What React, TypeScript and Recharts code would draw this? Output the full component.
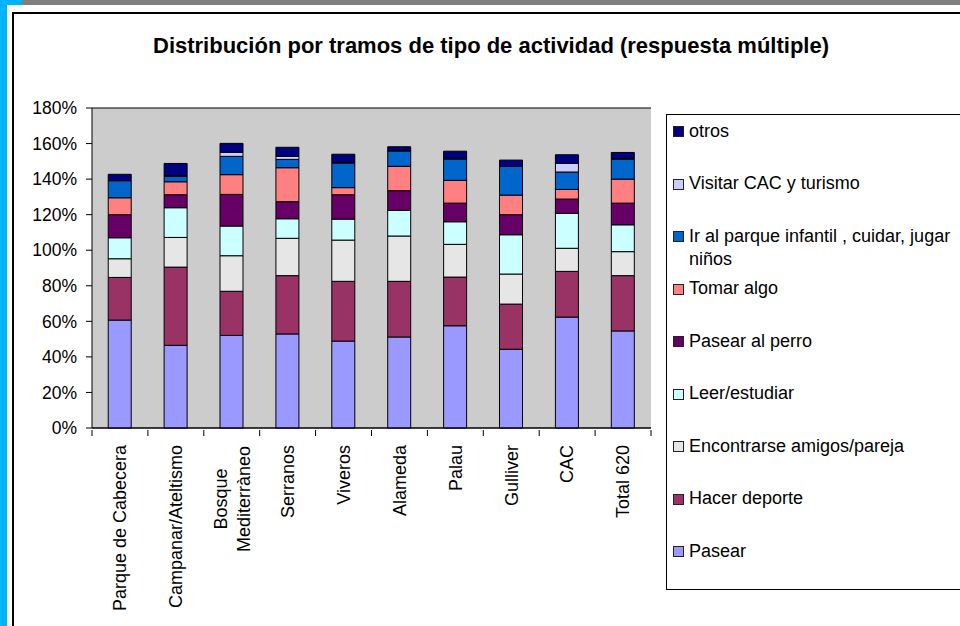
import React from 'react';
import { BarChart, Bar, XAxis, YAxis, CartesianGrid } from 'recharts';

const categories = [
  'Parque de Cabecera',
  'Campanar/Ateltismo',
  'Bosque\nMediterràneo',
  'Serranos',
  'Viveros',
  'Alameda',
  'Palau',
  'Gulliver',
  'CAC',
  'Total 620',
];

// percentages
const pasear = [60.7, 46.5, 52.1, 52.9, 48.9, 51.2, 57.5, 44.3, 62.4, 54.6];
const hacerDeporte = [24.0, 44.0, 24.8, 32.8, 33.6, 31.3, 27.4, 25.4, 25.7, 31.1];
const encontrarse = [10.5, 16.7, 20.0, 21.0, 23.2, 25.5, 18.4, 16.9, 13.0, 13.5];
const leer = [11.8, 16.7, 16.7, 11.0, 11.8, 14.4, 12.7, 22.1, 19.6, 15.1];
const perro = [13.0, 7.3, 17.8, 9.6, 13.7, 11.1, 10.5, 11.3, 8.1, 12.2];
const tomarAlgo = [9.5, 7.3, 11.1, 19.1, 4.0, 13.7, 12.8, 11.0, 5.4, 13.5];
const parqueInfantil = [9.6, 3.0, 10.3, 4.7, 13.7, 8.6, 12.0, 16.2, 9.8, 11.1];
const visitarCac = [0, 0.5, 2.3, 1.7, 0.5, 0.3, 0.5, 0, 4.9, 0.5];
const otros = [3.6, 6.8, 5.0, 5.1, 4.6, 2.1, 3.9, 3.5, 4.8, 3.4];

const yTicks = [0, 20, 40, 60, 80, 100, 120, 140, 160, 180];

const series = [
  { key: 'pasear', name: 'Pasear', values: pasear, color: '#9999ff' },
  { key: 'deporte', name: 'Hacer deporte', values: hacerDeporte, color: '#993366' },
  { key: 'amigos', name: 'Encontrarse amigos/pareja', values: encontrarse, color: '#e6e6e6' },
  { key: 'leer', name: 'Leer/estudiar', values: leer, color: '#ccffff' },
  { key: 'perro', name: 'Pasear al perro', values: perro, color: '#660066' },
  { key: 'tomar', name: 'Tomar algo', values: tomarAlgo, color: '#ff8080' },
  { key: 'infantil', name: 'Ir al parque infantil , cuidar, jugar niños', values: parqueInfantil, color: '#0066cc' },
  { key: 'visitar', name: 'Visitar CAC y turismo', values: visitarCac, color: '#ccccff' },
  { key: 'otros', name: 'otros', values: otros, color: '#000080' },
];

const data = categories.map((name, i) => {
  const row: { [k: string]: string | number } = { name };
  series.forEach(s => { row[s.key] = s.values[i]; });
  return row;
});

const FONT = 'Arial, "Liberation Sans", sans-serif';

function CategoryTick(props: any) {
  const { x, y, payload, index, visibleTicksCount, width } = props;
  const band = width / visibleTicksCount;
  const axisY = y - 6;
  const lines = String(payload.value).split('\n');
  const fs = 18;
  const top = axisY + 15;
  const longest = Math.max(...lines.map(l => l.length));
  return (
    <g>
      <line x1={x - band / 2} x2={x - band / 2} y1={axisY} y2={axisY + 6} stroke="#000" />
      {index === visibleTicksCount - 1 && (
        <line x1={x + band / 2} x2={x + band / 2} y1={axisY} y2={axisY + 6} stroke="#000" />
      )}
      {lines.length === 1 ? (
        <text
          x={x}
          y={top}
          dy="0.35em"
          transform={`rotate(-90, ${x}, ${top})`}
          textAnchor="end"
          fontSize={fs}
          fontFamily={FONT}
          fill="#000"
        >
          {lines[0]}
        </text>
      ) : (
        lines.map((l, i) => {
          const cx = x + (i - (lines.length - 1) / 2) * 23;
          const cy = top + (longest * fs * 0.5) / 2;
          return (
            <text
              key={i}
              x={cx}
              y={cy}
              dy="0.35em"
              transform={`rotate(-90, ${cx}, ${cy})`}
              textAnchor="middle"
              fontSize={fs}
              fontFamily={FONT}
              fill="#000"
            >
              {l}
            </text>
          );
        })
      )}
    </g>
  );
}

function LegendBox() {
  const items = [...series].reverse();
  return (
    <div
      style={{
        position: 'absolute',
        left: 666,
        top: 114,
        width: 320,
        height: 474,
        border: '1px solid #000',
        background: '#fff',
        fontFamily: FONT,
        fontSize: 18,
      }}
    >
      {items.map((s, i) => {
        const cy = 16 + i * 52.5;
        return (
          <div key={s.key}>
            <div
              style={{
                position: 'absolute',
                left: 6,
                top: cy - 5,
                width: 9,
                height: 9,
                background: s.color,
                border: '1px solid #222',
              }}
            />
            <div
              style={{
                position: 'absolute',
                left: 22,
                top: cy - 11.5,
                width: 272,
                lineHeight: '23px',
                color: '#000',
              }}
            >
              {s.name}
            </div>
          </div>
        );
      })}
    </div>
  );
}

export default function App() {
  return (
    <div
      style={{
        position: 'absolute',
        left: 0,
        top: 0,
        width: 960,
        height: 626,
        overflow: 'hidden',
        background: '#fff',
      }}
    >
      <div style={{ position: 'absolute', left: 0, top: 0, width: 960, height: 5, background: '#808080' }} />
      <div style={{ position: 'absolute', left: 0, top: 0, width: 22, height: 5, background: '#00b4ff' }} />
      <div style={{ position: 'absolute', left: 0, top: 0, width: 7, height: 626, background: '#00b4ff' }} />
      <div
        style={{
          position: 'absolute',
          left: 12,
          top: 12,
          width: 1000,
          height: 700,
          border: '2px solid #000',
          boxSizing: 'border-box',
        }}
      />
      <div
        style={{
          position: 'absolute',
          left: 0,
          top: 33,
          width: 982,
          textAlign: 'center',
          fontFamily: FONT,
          fontWeight: 'bold',
          fontSize: 22,
          color: '#000',
        }}
      >
        Distribución por tramos de tipo de actividad (respuesta múltiple)
      </div>
      <div style={{ position: 'absolute', left: 0, top: 0 }}>
        <BarChart
          width={960}
          height={626}
          data={data}
          margin={{ top: 108, right: 309, left: 12, bottom: 8 }}
          barCategoryGap="29%"
        >
          <CartesianGrid vertical={false} stroke="#000" fill="#cccccc" fillOpacity={1} />
          <XAxis
            dataKey="name"
            interval={0}
            height={190}
            tickSize={6}
            tickLine={false}
            axisLine={{ stroke: '#000' }}
            tick={<CategoryTick />}
          />
          <YAxis
            yAxisId="left"
            domain={[0, 180]}
            ticks={yTicks}
            width={80}
            tickSize={6}
            tickMargin={9}
            tickFormatter={(v: number) => `${v}%`}
            axisLine={{ stroke: '#000' }}
            tickLine={{ stroke: '#000' }}
            tick={{ fill: '#000', fontSize: 17.5, fontFamily: FONT }}
          />
          <YAxis
            yAxisId="right"
            orientation="right"
            domain={[0, 180]}
            ticks={yTicks}
            width={0}
            tick={false}
            tickLine={false}
            axisLine={{ stroke: '#808080' }}
          />
          {series.map(s => (
            <Bar
              key={s.key}
              yAxisId="left"
              dataKey={s.key}
              name={s.name}
              stackId="a"
              fill={s.color}
              stroke="#000"
              strokeWidth={1}
              isAnimationActive={false}
            />
          ))}
        </BarChart>
      </div>
      <LegendBox />
    </div>
  );
}
